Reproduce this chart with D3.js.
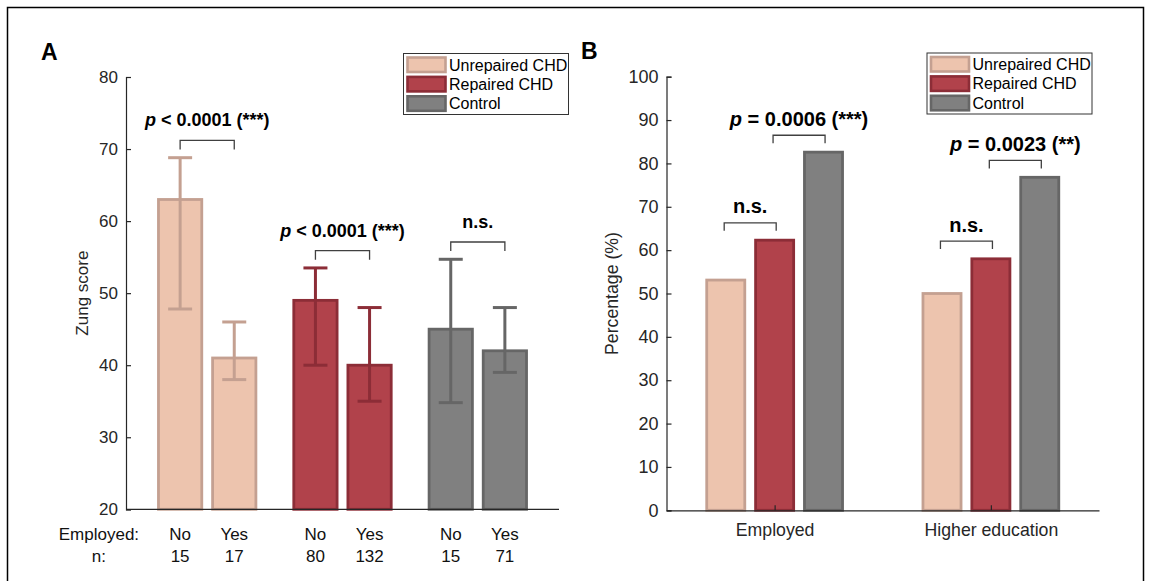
<!DOCTYPE html>
<html>
<head>
<meta charset="utf-8">
<script src="https://cdn.jsdelivr.net/npm/d3@7/dist/d3.min.js"></script>
<style>
  html, body { margin: 0; padding: 0; background: #fff; }
  svg { display: block; font-family: "Liberation Sans", Arial, Helvetica, sans-serif; }
</style>
</head>
<body>
<svg id="fig" width="1151" height="581"></svg>
<script>
// ---- Groups and styling keys ----
const groupNames = ["Unrepaired CHD", "Repaired CHD", "Control"];
const groupFill = ["#EDC4AE", "#B1424B", "#808080"];
const groupEdge = ["#C4A091", "#8C2D37", "#666666"];

// ---- Panel A: Zung score by employment status ----
const employedStatus = ["No", "Yes", "No", "Yes", "No", "Yes"];
const sampleSizes = [15, 17, 80, 132, 15, 71];
const barGroup = [0, 0, 1, 1, 2, 2];
const zungMean = [63, 41, 49, 40, 45, 42];
const zungLow = [47.8, 38, 40, 35, 34.8, 39];
const zungHigh = [68.8, 46, 53.5, 48, 54.7, 48];
const zungTicks = [20, 30, 40, 50, 60, 70, 80];
// comparisons: pairs of bar indices, bracket level (score units), label
const zungTests = [
  { a: 0, b: 1, level: 71.2, label: "< 0.0001 (***)", italicP: true },
  { a: 2, b: 3, level: 55.9, label: "< 0.0001 (***)", italicP: true },
  { a: 4, b: 5, level: 57.1, label: "n.s.", italicP: false }
];

// ---- Panel B: percentages by outcome ----
const outcomes = ["Employed", "Higher education"];
const unrepairedPct = [53.1, 50.0];
const repairedPct = [62.3, 58.0];
const controlPct = [82.6, 76.8];
const pctTicks = [0, 10, 20, 30, 40, 50, 60, 70, 80, 90, 100];
const pctTests = [
  { cat: 0, a: 0, b: 1, level: 66.3, label: "n.s.", italicP: false },
  { cat: 0, a: 1, b: 2, level: 86.5, label: "= 0.0006 (***)", italicP: true },
  { cat: 1, a: 0, b: 1, level: 62.1, label: "n.s.", italicP: false },
  { cat: 1, a: 1, b: 2, level: 80.7, label: "= 0.0023 (**)", italicP: true }
];

const svg = d3.select("#fig");
const axisColor = "#262626";

// outer frame
svg.append("path")
  .attr("d", "M7.5,581 V7.5 H1143.5 V581")
  .attr("fill", "none").attr("stroke", "#000").attr("stroke-width", 1.5);

// ---------- helpers ----------
function drawYAxis(g, scale, ticks, x0, fontSize) {
  const ax = d3.axisLeft(scale).tickValues(ticks).tickSizeInner(-5).tickSizeOuter(-5).tickPadding(8);
  const a = g.append("g").attr("transform", `translate(${x0},0)`).call(ax);
  a.select(".domain").attr("stroke", axisColor).attr("stroke-width", 1.2);
  a.selectAll(".tick line").attr("stroke", axisColor).attr("stroke-width", 1.2);
  a.selectAll(".tick text").attr("fill", axisColor).attr("font-size", fontSize)
    .attr("font-family", "Liberation Sans, Arial, sans-serif");
  return a;
}

function drawBracket(g, x1, x2, y, tick, label, italicP, fontSize, gap) {
  g.append("path")
    .attr("d", `M${x1},${y + tick} V${y} H${x2} V${y + tick}`)
    .attr("fill", "none").attr("stroke", "#404040").attr("stroke-width", 1.3);
  const t = g.append("text")
    .attr("x", (x1 + x2) / 2).attr("y", y - gap)
    .attr("text-anchor", "middle").attr("font-weight", "bold")
    .attr("font-size", fontSize).attr("fill", "#000");
  if (italicP) {
    t.append("tspan").attr("font-style", "italic").text("p");
    t.append("tspan").text(" " + label);
  } else {
    t.text(label);
  }
}

function drawLegend(g, x, y) {
  const w = 165, h = 61;
  g.append("rect").attr("x", x).attr("y", y).attr("width", w).attr("height", h)
    .attr("fill", "#fff").attr("stroke", "#333").attr("stroke-width", 1);
  groupNames.forEach((name, i) => {
    const ry = y + 4 + i * 19.4;
    g.append("rect").attr("x", x + 4).attr("y", ry)
      .attr("width", 38).attr("height", 14.5)
      .attr("fill", groupFill[i]).attr("stroke", groupEdge[i]).attr("stroke-width", 2.6);
    g.append("text").attr("x", x + 45.5).attr("y", ry + 13)
      .attr("font-size", 16).attr("fill", "#000").text(name);
  });
}

// ---------- Panel A ----------
const gA = svg.append("g");
const xA = d3.scaleLinear().domain([0, 8]).range([126, 559]);
const yA = d3.scaleLinear().domain([20, 80]).range([509.3, 77]);
// slot position: two bars per group, 1.5 units between groups
const slotA = i => 1 + barGroup[i] * 2.5 + (i % 2);
const bwA = 0.8;

gA.append("text").attr("x", 41).attr("y", 60).attr("font-size", 23)
  .attr("font-weight", "bold").text("A");

gA.selectAll("rect.bar").data(zungMean).join("rect")
  .attr("class", "bar")
  .attr("x", (d, i) => xA(slotA(i) - bwA / 2))
  .attr("width", xA(bwA) - xA(0))
  .attr("y", d => yA(d))
  .attr("height", d => yA(20) - yA(d))
  .attr("fill", (d, i) => groupFill[barGroup[i]])
  .attr("stroke", (d, i) => groupEdge[barGroup[i]])
  .attr("stroke-width", 2.8);

// error bars
const capA = 12;
zungMean.forEach((m, i) => {
  const cx = xA(slotA(i));
  const c = groupEdge[barGroup[i]];
  const eg = gA.append("g").attr("stroke", c).attr("stroke-width", 3);
  eg.append("line").attr("x1", cx).attr("x2", cx).attr("y1", yA(zungLow[i])).attr("y2", yA(zungHigh[i]));
  eg.append("line").attr("x1", cx - capA).attr("x2", cx + capA).attr("y1", yA(zungHigh[i])).attr("y2", yA(zungHigh[i]));
  eg.append("line").attr("x1", cx - capA).attr("x2", cx + capA).attr("y1", yA(zungLow[i])).attr("y2", yA(zungLow[i]));
});

// axes
drawYAxis(gA, yA, zungTicks, xA(0), 17);
gA.append("line").attr("x1", xA(0)).attr("x2", xA(8)).attr("y1", yA(20)).attr("y2", yA(20))
  .attr("stroke", axisColor).attr("stroke-width", 1.2);
gA.append("text")
  .attr("transform", `translate(88,${(yA(20) + yA(80)) / 2}) rotate(-90)`)
  .attr("text-anchor", "middle").attr("font-size", 17).attr("fill", axisColor)
  .text("Zung score");

// row labels under the bars
const rowY = [540, 562];
gA.append("text").attr("x", xA(-0.5)).attr("y", rowY[0]).attr("text-anchor", "middle")
  .attr("font-size", 17).attr("fill", "#111").text("Employed:");
gA.append("text").attr("x", xA(-0.5)).attr("y", rowY[1]).attr("text-anchor", "middle")
  .attr("font-size", 17).attr("fill", "#111").text("n:");
employedStatus.forEach((s, i) => {
  gA.append("text").attr("x", xA(slotA(i))).attr("y", rowY[0]).attr("text-anchor", "middle")
    .attr("font-size", 17).attr("fill", "#111").text(s);
  gA.append("text").attr("x", xA(slotA(i))).attr("y", rowY[1]).attr("text-anchor", "middle")
    .attr("font-size", 17).attr("fill", "#111").text(sampleSizes[i]);
});

zungTests.forEach(t => {
  drawBracket(gA, xA(slotA(t.a)), xA(slotA(t.b)), yA(t.level), 9, t.label, t.italicP, 18, 14);
});

drawLegend(gA, 403.5, 53.5);

// ---------- Panel B ----------
const gB = svg.append("g");
const xB = d3.scaleLinear().domain([0.5, 2.5]).range([666.5, 1099]);
const yB = d3.scaleLinear().domain([0, 100]).range([510.3, 76.7]);
const seriesB = [unrepairedPct, repairedPct, controlPct];
const offB = 0.226, bwB = 0.176;

gB.append("text").attr("x", 581).attr("y", 59).attr("font-size", 23)
  .attr("font-weight", "bold").text("B");

seriesB.forEach((vals, s) => {
  gB.selectAll(`rect.s${s}`).data(vals).join("rect")
    .attr("class", `s${s}`)
    .attr("x", (d, i) => xB(i + 1 + (s - 1) * offB - bwB / 2))
    .attr("width", xB(bwB) - xB(0))
    .attr("y", d => yB(d))
    .attr("height", d => yB(0) - yB(d))
    .attr("fill", groupFill[s])
    .attr("stroke", groupEdge[s])
    .attr("stroke-width", 2.8);
});

drawYAxis(gB, yB, pctTicks, xB(0.5), 18);
const axB = d3.axisBottom(xB).tickValues([1, 2]).tickFormat((d) => outcomes[d - 1])
  .tickSizeInner(-5).tickSizeOuter(0).tickPadding(13);
const aB = gB.append("g").attr("transform", `translate(0,${yB(0)})`).call(axB);
aB.select(".domain").attr("stroke", axisColor).attr("stroke-width", 1.2);
aB.selectAll(".tick line").attr("stroke", axisColor).attr("stroke-width", 1.2);
aB.selectAll(".tick text").attr("fill", axisColor).attr("font-size", 17.7)
  .attr("font-family", "Liberation Sans, Arial, sans-serif");

gB.append("text")
  .attr("transform", `translate(618,${(yB(0) + yB(100)) / 2}) rotate(-90)`)
  .attr("text-anchor", "middle").attr("font-size", 17.7).attr("fill", axisColor)
  .text("Percentage (%)");

pctTests.forEach(t => {
  const ca = t.cat + 1 + (t.a - 1) * offB;
  const cb = t.cat + 1 + (t.b - 1) * offB;
  const mid = (xB(ca) + xB(cb)) / 2;
  drawBracket(gB, mid - 26, mid + 26, yB(t.level), 8, t.label, t.italicP, 20, 9.5);
});

drawLegend(gB, 927, 53);
</script>
</body>
</html>
